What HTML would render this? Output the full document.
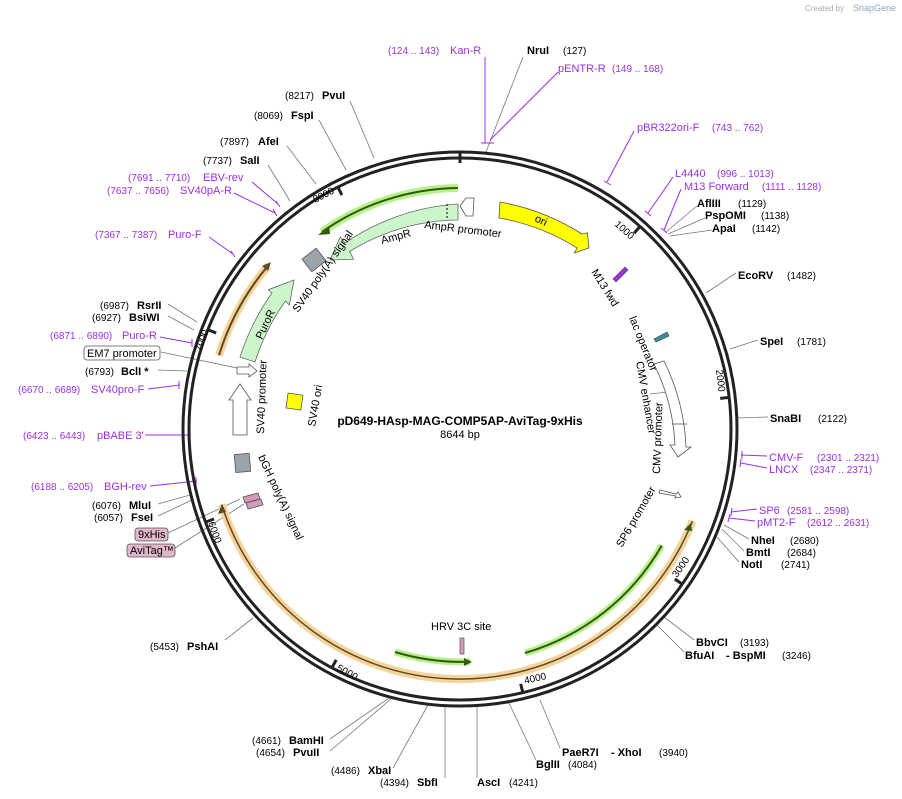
<!DOCTYPE html>
<html><head><meta charset="utf-8"><style>
html,body{margin:0;padding:0;background:#fff;}
svg{display:block;font-family:"Liberation Sans","DejaVu Sans",sans-serif;}
.b{font-size:11px;font-weight:bold;fill:#000}
.n{font-size:10px;fill:#000}
.p{font-size:11px;fill:#9b30e0}
.pn{font-size:10px;fill:#9b30e0}
.f{font-size:11px;fill:#000}
.l{stroke:#777;stroke-width:0.8;fill:none}
.lp{stroke:#9b30e0;stroke-width:1;fill:none}
</style></head><body>
<svg width="902" height="799" viewBox="0 0 902 799" xmlns="http://www.w3.org/2000/svg">
<text x="805" y="11" font-size="8" fill="#aaa">Created by</text>
<text x="853" y="11" font-size="9" fill="#8ab">SnapGene</text>

<g class="l">
<line x1="523" y1="57" x2="486" y2="152"/>
<line x1="350" y1="101" x2="374" y2="158"/>
<line x1="319" y1="120" x2="346" y2="170"/>
<line x1="287" y1="146" x2="316" y2="184"/>
<line x1="268" y1="165" x2="290" y2="201"/>
<line x1="697" y1="206" x2="666" y2="232"/>
<line x1="705" y1="218" x2="668" y2="234"/>
<line x1="712" y1="230" x2="670" y2="236"/>
<line x1="736" y1="273" x2="706" y2="293"/>
<line x1="758" y1="340" x2="730" y2="349"/>
<line x1="768" y1="417" x2="737" y2="418"/>
<line x1="168" y1="304" x2="197" y2="322"/>
<line x1="168" y1="316" x2="194" y2="330"/>
<line x1="161" y1="352" x2="256" y2="372"/>
<line x1="158" y1="370" x2="187" y2="371"/>
<line x1="158" y1="504" x2="190" y2="495"/>
<line x1="158" y1="516" x2="192" y2="500"/>
<line x1="168" y1="533" x2="240" y2="499"/>
<line x1="175" y1="548" x2="244" y2="504"/>
<line x1="749" y1="539" x2="724" y2="525"/>
<line x1="744" y1="551" x2="722" y2="529"/>
<line x1="739" y1="562" x2="717" y2="537"/>
<line x1="225" y1="640" x2="253" y2="618"/>
<line x1="694" y1="640" x2="664" y2="617"/>
<line x1="684" y1="652" x2="657" y2="625"/>
<line x1="330" y1="739" x2="389" y2="698"/>
<line x1="330" y1="751" x2="391" y2="699"/>
<line x1="560" y1="748" x2="540" y2="700"/>
<line x1="393" y1="768" x2="428" y2="705"/>
<line x1="536" y1="760" x2="509" y2="703"/>
<line x1="445" y1="778" x2="445" y2="706"/>
<line x1="477" y1="778" x2="477" y2="706"/>
<line x1="650" y1="394" x2="668" y2="392"/>
</g>
<g class="lp">
<line x1="485" y1="57" x2="485" y2="143"/><line x1="481" y1="143" x2="489" y2="143"/>
<line x1="558" y1="72" x2="490" y2="140"/><line x1="486" y1="143" x2="494" y2="143"/>
<line x1="634" y1="131" x2="607" y2="182"/><line x1="604" y1="181" x2="611" y2="185"/>
<line x1="673" y1="177" x2="648" y2="213"/><line x1="645" y1="211" x2="651" y2="216"/>
<line x1="681" y1="189" x2="664" y2="230"/><line x1="661" y1="228" x2="667" y2="233"/>
<line x1="252" y1="182" x2="278" y2="204"/><line x1="276" y1="201" x2="280" y2="207"/>
<line x1="234" y1="193" x2="275" y2="213"/><line x1="273" y1="209" x2="277" y2="216"/>
<line x1="209" y1="237" x2="233" y2="254"/><line x1="231" y1="251" x2="235" y2="257"/>
<line x1="160" y1="337" x2="192" y2="343"/><line x1="192" y1="339" x2="192" y2="347"/>
<line x1="148" y1="389" x2="180" y2="385"/><line x1="179" y1="381" x2="179" y2="389"/>
<line x1="145" y1="435" x2="190" y2="435"/><line x1="189" y1="431" x2="189" y2="439"/>
<line x1="150" y1="486" x2="197" y2="481"/><line x1="196" y1="477" x2="196" y2="485"/>
<line x1="767" y1="456" x2="741" y2="455"/><line x1="742" y1="451" x2="742" y2="459"/>
<line x1="767" y1="468" x2="741" y2="463"/><line x1="741" y1="459" x2="740" y2="467"/>
<line x1="757" y1="509" x2="731" y2="512"/><line x1="732" y1="508" x2="731" y2="516"/>
<line x1="755" y1="521" x2="729" y2="518"/><line x1="730" y1="514" x2="728" y2="522"/>
</g>

<circle cx="460" cy="429" r="277" fill="none" stroke="#222" stroke-width="3"/>
<circle cx="460" cy="429" r="271" fill="none" stroke="#222" stroke-width="3"/>
<g stroke="#222" stroke-width="3">
<line x1="460" y1="151" x2="460" y2="163"/>
<line x1="640" y1="226.5" x2="634.1" y2="233.2"/>
<line x1="729.2" y1="397.4" x2="720.2" y2="398.4"/>
<line x1="682.2" y1="584.1" x2="674.8" y2="579"/>
<line x1="522.8" y1="692.6" x2="520.7" y2="683.9"/>
<line x1="331.9" y1="667.8" x2="336.2" y2="659.9"/>
<line x1="205.5" y1="522.1" x2="214" y2="519"/>
<line x1="207.8" y1="329.7" x2="216.2" y2="333"/>
<line x1="337.8" y1="187.1" x2="341.9" y2="195.1"/>
</g>
<g class="n">
<text x="614" y="225" transform="rotate(42 614 225)">1000</text>
<text x="716" y="370" transform="rotate(83 716 370)">2000</text>
<text x="677" y="578" transform="rotate(-55 677 578)">3000</text>
<text x="525" y="684" transform="rotate(-13 525 684)">4000</text>
<text x="336" y="670" transform="rotate(28 336 670)">5000</text>
<text x="208" y="523" transform="rotate(70 208 523)">6000</text>
<text x="201" y="352" transform="rotate(-70 201 352)">7000</text>
<text x="315" y="203" transform="rotate(-27 315 203)">8000</text>
</g>

<path d="M692.5,521 A250 250 0 0 1 221.7,504.6" fill="none" stroke="#f7d39a" stroke-width="8"/>
<path d="M692.5,521 A250 250 0 0 1 221.7,504.6" fill="none" stroke="#5a4a2a" stroke-width="1.5"/>
<polygon points="222,504 218,514 226,512" fill="#5a4a2a"/>
<polygon points="691,523 684,530 692,531" fill="#2f5a10"/>
<!-- inner green segments -->
<path d="M661.8,545.5 A233 233 0 0 1 525,653" fill="none" stroke="#b8f08a" stroke-width="7"/>
<path d="M661.8,545.5 A233 233 0 0 1 525,653" fill="none" stroke="#2f5a10" stroke-width="2"/>
<path d="M470.2,661.8 A233 233 0 0 1 395,652" fill="none" stroke="#b8f08a" stroke-width="7"/>
<path d="M470.2,661.8 A233 233 0 0 1 395,652" fill="none" stroke="#2f5a10" stroke-width="2"/>
<polygon points="472,662 464,658 464,666" fill="#2f5a10"/>

<path d="M219,355.3 A252 252 0 0 1 268.4,265.4" fill="none" stroke="#f7d39a" stroke-width="8"/>
<path d="M219,355.3 A252 252 0 0 1 268.4,265.4" fill="none" stroke="#5a4a2a" stroke-width="2"/>
<polygon points="271,262 262,266 268,271" fill="#5a4a2a"/>
<path d="M458,188 A241 241 0 0 0 322,232" fill="none" stroke="#b8f08a" stroke-width="8"/>
<path d="M458,188 A241 241 0 0 0 322,232" fill="none" stroke="#2f5a10" stroke-width="2"/>
<polygon points="318,235 329,226 330,234" fill="#2f5a10"/>
<path d="M458,204 L458,220 A209 209 0 0 0 349.5,251.5 L353.6,259.3 L330,260 L340.3,237 L345,243 A225 225 0 0 1 458,204 Z" fill="#ccf5cc" stroke="#666" stroke-width="0.8"/>
<line x1="447" y1="204" x2="447" y2="220" stroke="#000" stroke-dasharray="2,2"/>
<polygon points="460,206 466,198 474,198 473,216 466,216" fill="#fff" stroke="#555" stroke-width="0.8"/>
<path d="M500,202 A230 230 0 0 1 582,234 L587.4,232.7 L589,248 L574.4,252.9 L577,248 A214 214 0 0 0 499,218 Z" fill="#ffff00" stroke="#555" stroke-width="0.8"/>
<path d="M240,357 A232 232 0 0 1 272,293 L268.3,289.7 L294,280 L289.3,305 L285.5,301 A216 216 0 0 0 255,362 Z" fill="#ccf5cc" stroke="#666" stroke-width="0.8"/>
<polygon points="237,367 249,367 249,364 257,371 249,377 249,374 237,374" fill="#fff" stroke="#555" stroke-width="0.8"/>
<polygon points="233,435 233,400 229,400 240,384 251,400 247,400 247,435" fill="#fff" stroke="#555" stroke-width="0.8"/>
<rect x="305" y="252" width="18" height="16" fill="#9ca3ab" stroke="#555" stroke-width="0.8" transform="rotate(-38 314 260)"/>
<rect x="235" y="454" width="15" height="18" fill="#9ca3ab" stroke="#555" stroke-width="0.8" transform="rotate(-5 242 463)"/>
<rect x="287" y="394" width="15" height="15" fill="#ffff00" stroke="#555" stroke-width="0.8" transform="rotate(8 294 401)"/>
<polygon points="243,497 258,493 260,499 245,503" fill="#d49bb8" stroke="#555" stroke-width="0.8"/>
<polygon points="246,503 261,499 263,505 248,509" fill="#d49bb8" stroke="#555" stroke-width="0.8"/>
<rect x="460" y="638" width="4" height="16" fill="#d49bb8" stroke="#555" stroke-width="0.7"/>
<polygon points="613,279 625,267 628,270 616,282" fill="#9b30e0" stroke="#444" stroke-width="0.6"/>
<polygon points="654,339 667,332 669,336 656,342" fill="#3a8fa0" stroke="#333" stroke-width="0.6"/>
<path d="M664,361 A215 215 0 0 1 686,447 L691,447 L678,457 L670,445 L675,445 A205 205 0 0 0 654,364 Z" fill="#fff" stroke="#555" stroke-width="0.8"/>
<line x1="672" y1="424" x2="687" y2="424" stroke="#555" stroke-width="0.8"/>
<polygon points="660,490 676,494 678,492 681,497 675,498 676,496 659,493" fill="#fff" stroke="#555" stroke-width="0.8"/>

<g class="f">
<text x="534" y="221" transform="rotate(25 534 221)">ori</text>
<text x="424" y="228" transform="rotate(7 424 228)">AmpR promoter</text>
<text x="382" y="244" transform="rotate(-15 382 244)">AmpR</text>
<text x="298" y="313" transform="rotate(-55 298 313)">SV40 poly(A) signal</text>
<text x="262" y="340" transform="rotate(-65 262 340)">PuroR</text>
<text x="264" y="434" transform="rotate(-88 264 434)">SV40 promoter</text>
<text x="315" y="427" transform="rotate(-80 315 427)">SV40 ori</text>
<text x="258" y="457" transform="rotate(65 258 457)">bGH poly(A) signal</text>
<text x="591" y="272" transform="rotate(58 591 272)">M13 fwd</text>
<text x="629" y="318" transform="rotate(68 629 318)">lac operator</text>
<text x="636" y="362" transform="rotate(80 636 362)">CMV enhancer</text>
<text x="660" y="474" transform="rotate(-88 660 474)">CMV promoter</text>
<text x="622" y="548" transform="rotate(-60 622 548)">SP6 promoter</text>
<text x="431" y="630">HRV 3C site</text>
</g>
<text x="460" y="425" text-anchor="middle" font-size="12" font-weight="bold">pD649-HAsp-MAG-COMP5AP-AviTag-9xHis</text>
<text x="460" y="438" text-anchor="middle" font-size="11">8644 bp</text>

<text x="388" y="54" class="pn">(124 .. 143)</text><text x="450" y="54" class="p">Kan-R</text>
<text x="527" y="54" class="b">NruI</text><text x="563" y="54" class="n">(127)</text>
<text x="558" y="72" class="p">pENTR-R</text><text x="612" y="72" class="pn">(149 .. 168)</text>
<text x="285" y="99" class="n">(8217)</text><text x="322" y="99" class="b">PvuI</text>
<text x="254" y="119" class="n">(8069)</text><text x="291" y="119" class="b">FspI</text>
<text x="637" y="131" class="p">pBR322ori-F</text><text x="712" y="131" class="pn">(743 .. 762)</text>
<text x="220" y="145" class="n">(7897)</text><text x="258" y="145" class="b">AfeI</text>
<text x="203" y="164" class="n">(7737)</text><text x="240" y="164" class="b">SalI</text>
<text x="675" y="177" class="p">L4440</text><text x="717" y="177" class="pn">(996 .. 1013)</text>
<text x="128" y="181" class="pn">(7691 .. 7710)</text><text x="203" y="181" class="p">EBV-rev</text>
<text x="684" y="190" class="p">M13 Forward</text><text x="762" y="190" class="pn">(1111 .. 1128)</text>
<text x="107" y="194" class="pn">(7637 .. 7656)</text><text x="180" y="194" class="p">SV40pA-R</text>
<text x="697" y="207" class="b">AflIII</text><text x="738" y="207" class="n">(1129)</text>
<text x="705" y="219" class="b">PspOMI</text><text x="761" y="219" class="n">(1138)</text>
<text x="712" y="232" class="b">ApaI</text><text x="752" y="232" class="n">(1142)</text>
<text x="95" y="238" class="pn">(7367 .. 7387)</text><text x="168" y="238" class="p">Puro-F</text>
<text x="738" y="279" class="b">EcoRV</text><text x="787" y="279" class="n">(1482)</text>
<text x="100" y="309" class="n">(6987)</text><text x="137" y="309" class="b">RsrII</text>
<text x="92" y="321" class="n">(6927)</text><text x="129" y="321" class="b">BsiWI</text>
<text x="50" y="339" class="pn">(6871 .. 6890)</text><text x="122" y="339" class="p">Puro-R</text>
<text x="760" y="345" class="b">SpeI</text><text x="797" y="345" class="n">(1781)</text>
<rect x="84" y="346" width="76" height="14" rx="3" fill="#fff" stroke="#555" stroke-width="0.8"/>
<text x="87" y="357" class="f">EM7 promoter</text>
<text x="85" y="375" class="n">(6793)</text><text x="121" y="375" class="b">BclI *</text>
<text x="18" y="393" class="pn">(6670 .. 6689)</text><text x="91" y="393" class="p">SV40pro-F</text>
<text x="770" y="422" class="b">SnaBI</text><text x="818" y="422" class="n">(2122)</text>
<text x="23" y="439" class="pn">(6423 .. 6443)</text><text x="97" y="439" class="p">pBABE 3'</text>
<text x="769" y="461" class="p">CMV-F</text><text x="817" y="461" class="pn">(2301 .. 2321)</text>
<text x="769" y="473" class="p">LNCX</text><text x="810" y="473" class="pn">(2347 .. 2371)</text>
<text x="31" y="490" class="pn">(6188 .. 6205)</text><text x="104" y="490" class="p">BGH-rev</text>
<text x="92" y="509" class="n">(6076)</text><text x="129" y="509" class="b">MluI</text>
<text x="94" y="521" class="n">(6057)</text><text x="131" y="521" class="b">FseI</text>
<text x="759" y="514" class="p">SP6</text><text x="787" y="514" class="pn">(2581 .. 2598)</text>
<text x="757" y="526" class="p">pMT2-F</text><text x="807" y="526" class="pn">(2612 .. 2631)</text>
<rect x="135" y="528" width="33" height="13" rx="3" fill="#e2b6ca" stroke="#555" stroke-width="0.8"/>
<text x="138" y="538" class="f">9xHis</text>
<rect x="127" y="544" width="48" height="13" rx="3" fill="#e2b6ca" stroke="#555" stroke-width="0.8"/>
<text x="130" y="554" class="f">AviTag™</text>
<text x="751" y="544" class="b">NheI</text><text x="790" y="544" class="n">(2680)</text>
<text x="746" y="556" class="b">BmtI</text><text x="787" y="556" class="n">(2684)</text>
<text x="741" y="568" class="b">NotI</text><text x="781" y="568" class="n">(2741)</text>
<text x="150" y="650" class="n">(5453)</text><text x="187" y="650" class="b">PshAI</text>
<text x="696" y="646" class="b">BbvCI</text><text x="740" y="646" class="n">(3193)</text>
<text x="685" y="659" class="b">BfuAI</text><text x="726" y="659" class="b">- BspMI</text><text x="782" y="659" class="n">(3246)</text>
<text x="252" y="744" class="n">(4661)</text><text x="289" y="744" class="b">BamHI</text>
<text x="256" y="756" class="n">(4654)</text><text x="293" y="756" class="b">PvuII</text>
<text x="562" y="756" class="b">PaeR7I</text><text x="611" y="756" class="b">- XhoI</text><text x="659" y="756" class="n">(3940)</text>
<text x="331" y="774" class="n">(4486)</text><text x="368" y="774" class="b">XbaI</text>
<text x="536" y="768" class="b">BglII</text><text x="568" y="768" class="n">(4084)</text>
<text x="380" y="786" class="n">(4394)</text><text x="417" y="786" class="b">SbfI</text>
<text x="477" y="786" class="b">AscI</text><text x="509" y="786" class="n">(4241)</text>
</svg>
</body></html>
